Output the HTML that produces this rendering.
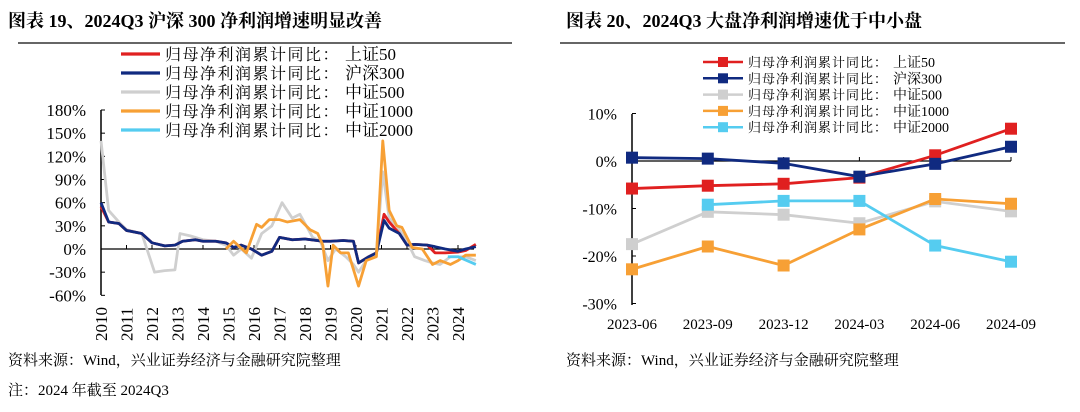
<!DOCTYPE html>
<html><head><meta charset="utf-8"><style>
body{margin:0;background:#fff;width:1080px;height:407px;overflow:hidden}
svg{font-family:"Liberation Serif","Noto Serif CJK SC",serif}
</style></head><body>
<svg id="s" width="1080" height="407" xmlns="http://www.w3.org/2000/svg">
<text x="8" y="27" font-size="18" font-weight="bold" fill="#000">图表 19、2024Q3 沪深 300 净利润增速明显改善</text>
<text x="566" y="27" font-size="18" font-weight="bold" fill="#000">图表 20、2024Q3 大盘净利润增速优于中小盘</text>
<line x1="18" y1="43" x2="512" y2="43" stroke="#333" stroke-width="1.5"/>
<line x1="560" y1="43" x2="1065" y2="43" stroke="#333" stroke-width="1.5"/>
<g font-size="15" fill="#000">
<text x="8" y="365">资料来源：Wind，兴业证券经济与金融研究院整理</text>
<text x="8" y="395">注：2024 年截至 2024Q3</text>
<text x="566" y="365">资料来源：Wind，兴业证券经济与金融研究院整理</text>
</g>
<g id="L"></g><g id="R"></g>
</svg>
<script>
const NS="http://www.w3.org/2000/svg";
function el(p,t,a,txt){const e=document.createElementNS(NS,t);for(const k in a)e.setAttribute(k,a[k]);if(txt!==undefined)e.textContent=txt;p.appendChild(e);return e;}
const L=document.getElementById('L'),R=document.getElementById('R');
const lx=t=>101+(t-2010)*25.5, ly=v=>249-v*139/180;
el(L,'line',{x1:101,y1:110,x2:101,y2:295,stroke:'#000','stroke-width':1.5});
el(L,'line',{x1:101,y1:249,x2:474,y2:249,stroke:'#000','stroke-width':1.2});
for(let v=-60;v<=180;v+=30){el(L,'line',{x1:101,y1:ly(v),x2:105,y2:ly(v),stroke:'#000'});
el(L,'text',{x:86,y:ly(v)+6,'font-size':17,'text-anchor':'end'},v+'%');}
for(let y=2010;y<=2024;y++){el(L,'line',{x1:lx(y),y1:249,x2:lx(y),y2:245,stroke:'#000'});
el(L,'text',{transform:`translate(${lx(y)+6},341) rotate(-90)`,'font-size':17},y);}
const base=[[2010,55],[2010.3,35],[2010.7,33],[2011,24],[2011.6,20],[2012,8],[2012.5,4],[2012.9,5],[2013.2,10],[2013.7,12],[2014,10],[2014.5,10],[2014.9,8],[2015.2,2],[2015.5,5],[2015.9,0],[2016.3,-8],[2016.7,-3],[2017,15],[2017.5,12],[2018,13],[2018.7,10],[2019,10],[2019.5,11],[2019.9,10],[2020.1,-18],[2020.5,-10],[2020.8,-5],[2021.1,40],[2021.3,30],[2021.7,20],[2022,5],[2022.3,6],[2022.8,5]];
const red=base.map(p=>[p[0],p[1]+(p[0]>2020.9&&p[0]<2021.4?5:0)]).concat([[2023.1,-5],[2023.5,-5],[2024,-4],[2024.3,-2],[2024.7,6]]);
const blue=base.map(p=>[p[0],p[1]+(p[0]<2010.1?5:0)-(p[0]>2020.9&&p[0]<2021.4?3:0)]).concat([[2023.1,3],[2023.5,0],[2024,-3],[2024.3,0],[2024.7,3]]);
const gray=[[2010,140],[2010.3,50],[2010.7,35],[2011,25],[2011.6,20],[2012.1,-30],[2012.5,-28],[2012.9,-27],[2013.1,20],[2013.5,17],[2014,12],[2014.5,10],[2014.9,5],[2015.2,-8],[2015.5,0],[2015.9,-12],[2016.3,20],[2016.7,30],[2017.1,60],[2017.5,40],[2017.8,45],[2018.3,15],[2018.6,10],[2018.9,-15],[2019.2,0],[2019.6,-10],[2019.9,-20],[2020.1,-30],[2020.4,-15],[2020.8,-5],[2021.05,100],[2021.3,40],[2021.6,30],[2022,10],[2022.3,-10],[2022.7,-15],[2023,-18],[2023.3,-20],[2023.7,-10],[2024.3,-10],[2024.7,-15]];
const orange=[[2014.9,0],[2015.2,10],[2015.7,-5],[2016.1,32],[2016.3,28],[2016.6,38],[2017,38],[2017.3,35],[2017.8,38],[2018.2,25],[2018.5,20],[2018.7,5],[2018.9,-48],[2019.1,5],[2019.4,-5],[2019.7,-5],[2020.1,-48],[2020.4,-15],[2020.8,-10],[2021.05,140],[2021.3,50],[2021.6,30],[2021.8,28],[2022.2,2],[2022.6,0],[2023,-20],[2023.3,-15],[2023.7,-20],[2024,-15],[2024.3,-8],[2024.7,-8]];
const cyan=[[2023.6,-10],[2024.0,-10],[2024.7,-20]];
function pl(p,d,c){el(p,'polyline',{points:d.map(q=>lx(q[0])+','+ly(q[1])).join(' '),fill:'none',stroke:c,'stroke-width':2.8,'stroke-linejoin':'round'});}
pl(L,gray,'#cfcfcf');pl(L,red,'#e02020');pl(L,blue,'#102a80');pl(L,orange,'#f7a035');pl(L,cyan,'#55ccf0');
const cols=['#e02020','#102a80','#cfcfcf','#f7a035','#55ccf0'],names=['上证50','沪深300','中证500','中证1000','中证2000'];
names.forEach((n,i)=>{const y=58+i*19;el(L,'line',{x1:121,y1:y-4,x2:160,y2:y-4,stroke:cols[i],'stroke-width':3.2});
el(L,'text',{x:165,y:y+2,'font-size':16,'letter-spacing':'1.5'},'归母净利润累计同比：');el(L,'text',{x:345,y:y+2,'font-size':17},n);});
const rx=i=>632+i*75.8, ry=v=>161-v*4.75;
el(R,'line',{x1:632,y1:114,x2:632,y2:305,stroke:'#000','stroke-width':1.5});
el(R,'line',{x1:632,y1:161,x2:1011,y2:161,stroke:'#000','stroke-width':1.2});
for(let v=-30;v<=10;v+=10){el(R,'line',{x1:632,y1:ry(v),x2:636,y2:ry(v),stroke:'#000'});el(R,'text',{x:617,y:ry(v)+6,'font-size':16,'text-anchor':'end'},v+'%');}
['2023-06','2023-09','2023-12','2024-03','2024-06','2024-09'].forEach((t,i)=>{el(R,'line',{x1:rx(i),y1:161,x2:rx(i),y2:157,stroke:'#000'});el(R,'text',{x:rx(i),y:329,'font-size':15,'text-anchor':'middle'},t);});
const rd=[[-5.8,-5.2,-4.8,-3.5,1.2,6.8],[0.7,0.5,-0.5,-3.3,-0.6,3.0],[-17.5,-10.7,-11.3,-13.1,-8.5,-10.6],[-22.8,-18,-22,-14.4,-8.0,-9.0],[null,-9.2,-8.4,-8.4,-17.8,-21.2]];
[2,3,4,0,1].forEach(k=>{const pts=[];rd[k].forEach((v,i)=>{if(v!==null)pts.push([rx(i),ry(v)]);});
el(R,'polyline',{points:pts.map(p=>p.join(',')).join(' '),fill:'none',stroke:cols[k],'stroke-width':2.8});
pts.forEach(p=>el(R,'rect',{x:p[0]-6,y:p[1]-6,width:12,height:12,fill:cols[k]}));});
names.forEach((n,i)=>{const y=62+i*16.3;el(R,'line',{x1:703,y1:y,x2:743,y2:y,stroke:cols[i],'stroke-width':2.5});
el(R,'rect',{x:718,y:y-5,width:10,height:10,fill:cols[i]});
el(R,'text',{x:748,y:y+5,'font-size':13,'letter-spacing':'1'},'归母净利润累计同比：');el(R,'text',{x:893,y:y+5,'font-size':14},n);});
</script>
</body></html>
